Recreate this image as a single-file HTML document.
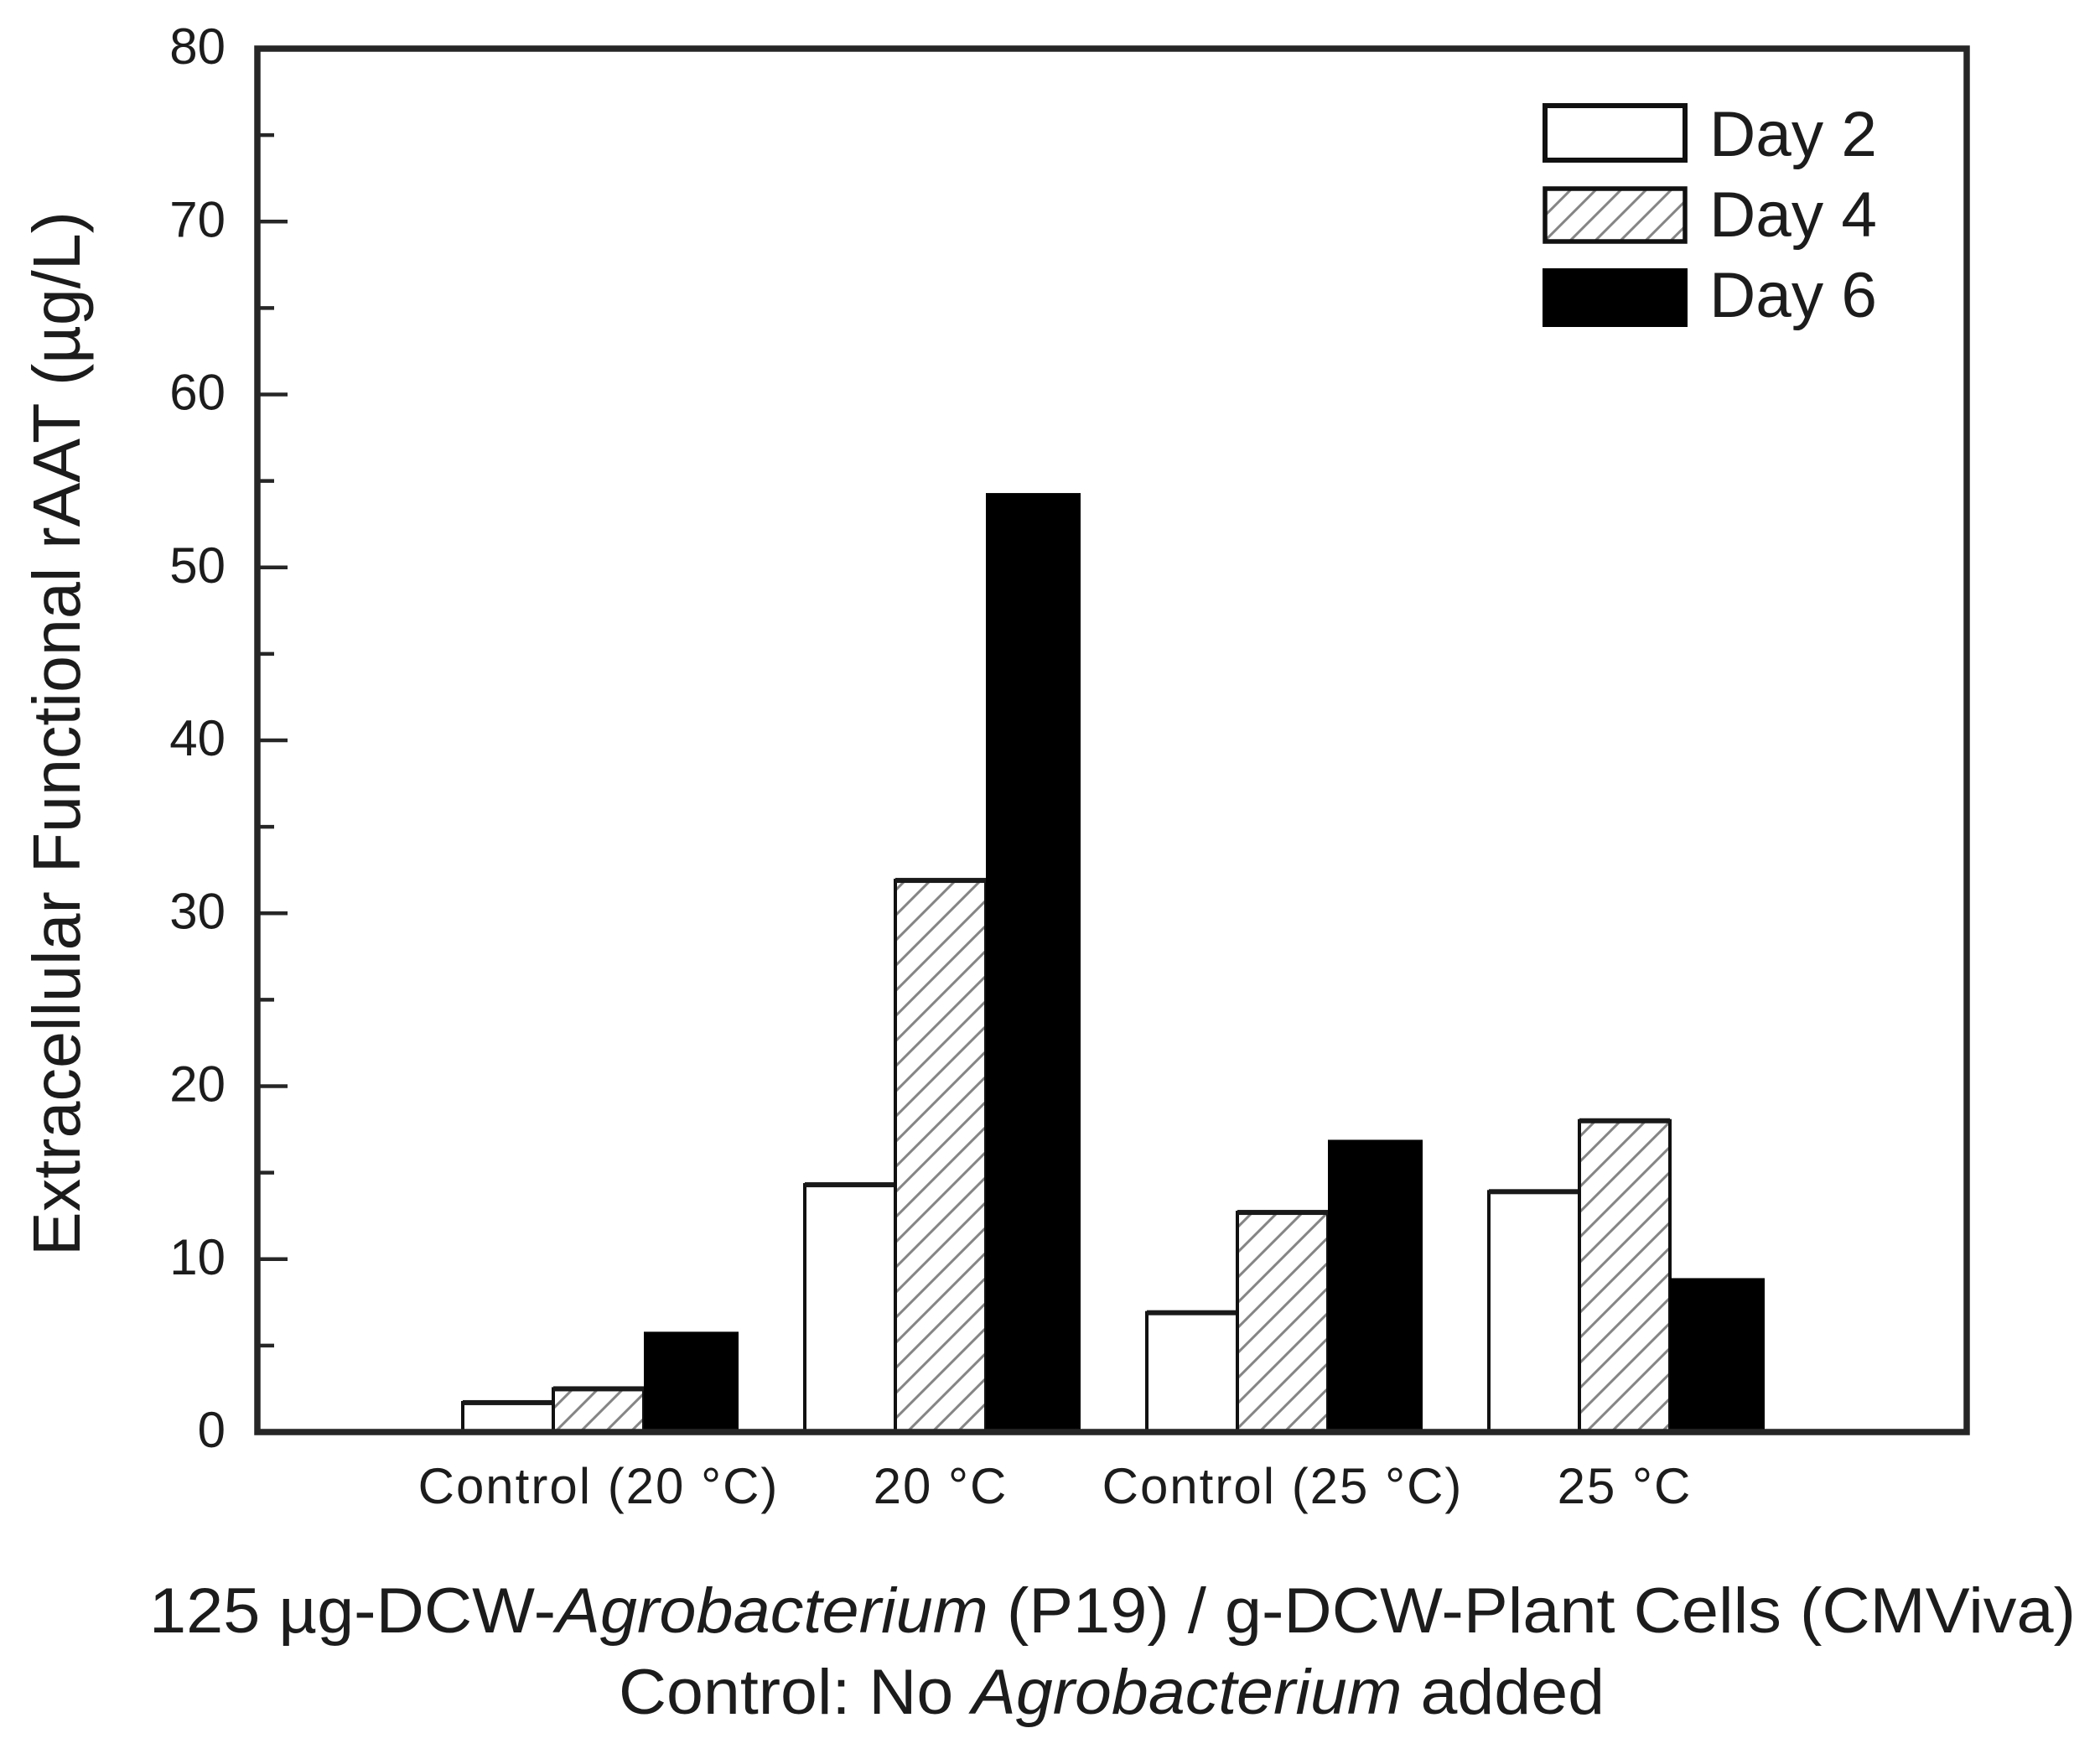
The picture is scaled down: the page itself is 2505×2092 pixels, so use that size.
<!DOCTYPE html>
<html lang="en">
<head>
<meta charset="utf-8">
<title>Extracellular Functional rAAT</title>
<style>
html,body{margin:0;padding:0;background:#fff;}
svg{display:block;}
text{font-family:"Liberation Sans",sans-serif;fill:#1c1c1c;}
</style>
</head>
<body>
<svg id="chart" xmlns="http://www.w3.org/2000/svg" width="2505" height="2092" viewBox="0 0 2505 2092">
  <defs>
    <pattern id="hatch" patternUnits="userSpaceOnUse" width="30" height="30">
      <path d="M-7.5 7.5 L7.5 -7.5 M0 30 L30 0 M22.5 37.5 L37.5 22.5" stroke="#858585" stroke-width="3" fill="none"/>
    </pattern>
  </defs>
  <rect x="0" y="0" width="2505" height="2092" fill="#fff"/>
  <g id="bars"></g>
  <g id="ticks"></g>
  <rect x="307" y="58" width="2039" height="1650" fill="none" stroke="#262626" stroke-width="7.5"/>
  <g id="labels"></g>

  <text transform="translate(95,1498) rotate(-90)" font-size="80" textLength="1246" lengthAdjust="spacingAndGlyphs">Extracellular Functional rAAT (µg/L)</text>
  <text x="178" y="1947" font-size="76" textLength="2298" lengthAdjust="spacingAndGlyphs">125 µg-DCW-<tspan font-style="italic">Agrobacterium</tspan> (P19) / g-DCW-Plant Cells (CMViva)</text>
  <text x="738" y="2044" font-size="76" textLength="1176" lengthAdjust="spacingAndGlyphs">Control: No <tspan font-style="italic">Agrobacterium</tspan> added</text>

  <g>
    <rect x="1843" y="126" width="167" height="65" fill="#fff" stroke="#111" stroke-width="6"/>
    <text x="2039" y="186" font-size="76" textLength="200" lengthAdjust="spacingAndGlyphs">Day 2</text>
    <rect x="1843" y="225" width="167" height="63" fill="url(#hatch)" stroke="#111" stroke-width="5.5"/>
    <text x="2039" y="282" font-size="76" textLength="200" lengthAdjust="spacingAndGlyphs">Day 4</text>
    <rect x="1840" y="320" width="173" height="70" fill="#000"/>
    <text x="2039" y="378" font-size="76" textLength="200" lengthAdjust="spacingAndGlyphs">Day 6</text>
  </g>
</svg>
<script>
const categories = ["Control (20 °C)", "20 °C", "Control (25 °C)", "25 °C"];
const day2Values = [1.7, 14.3, 6.9, 13.9];
const day4Values = [2.5, 31.9, 12.7, 18.0];
const day6Values = [5.8, 54.3, 16.9, 8.9];
const yTickLabels = ["0", "10", "20", "30", "40", "50", "60", "70", "80"];
const yMinorTicks = [5, 15, 25, 35, 45, 55, 65, 75];

const NS = "http://www.w3.org/2000/svg";
const yMax = 80;
const yZero = 1708;
const yTop = 58;
const firstGroupLeft = 552;
const groupPitch = 408;
const barWidth = 108;

function yScale(v) {
  return yZero - (v / yMax) * (yZero - yTop);
}
function groupLeft(i) {
  return firstGroupLeft + groupPitch * i;
}

const barsLayer = document.getElementById("bars");
const ticksLayer = document.getElementById("ticks");
const labelsLayer = document.getElementById("labels");

categories.forEach(function (cat, i) {
  const slug = cat.toLowerCase().replace(/[^a-z0-9]+/g, "-").replace(/-$/, "");
  const x0 = groupLeft(i);

  const r2 = document.createElementNS(NS, "rect");
  r2.setAttribute("x", x0);
  r2.setAttribute("y", yScale(day2Values[i]));
  r2.setAttribute("width", barWidth);
  r2.setAttribute("height", yZero - yScale(day2Values[i]));
  r2.setAttribute("fill", "#fff");
  r2.setAttribute("stroke", "#111");
  r2.setAttribute("stroke-width", "4");
  
  
  barsLayer.appendChild(r2);

  const top2 = document.createElementNS(NS, "rect");
  top2.setAttribute("x", x0);
  top2.setAttribute("y", yScale(day2Values[i]) - 3);
  top2.setAttribute("width", barWidth);
  top2.setAttribute("height", 6);
  top2.setAttribute("fill", "#1a1a1a");
  
  
  barsLayer.appendChild(top2);

  const r4 = document.createElementNS(NS, "rect");
  r4.setAttribute("x", x0 + barWidth);
  r4.setAttribute("y", yScale(day4Values[i]));
  r4.setAttribute("width", barWidth);
  r4.setAttribute("height", yZero - yScale(day4Values[i]));
  r4.setAttribute("fill", "url(#hatch)");
  r4.setAttribute("stroke", "#111");
  r4.setAttribute("stroke-width", "4");
  
  
  barsLayer.appendChild(r4);

  const top4 = document.createElementNS(NS, "rect");
  top4.setAttribute("x", x0 + barWidth);
  top4.setAttribute("y", yScale(day4Values[i]) - 3);
  top4.setAttribute("width", barWidth);
  top4.setAttribute("height", 6);
  top4.setAttribute("fill", "#1a1a1a");
  
  
  barsLayer.appendChild(top4);

  const r6 = document.createElementNS(NS, "rect");
  r6.setAttribute("x", x0 + barWidth * 2);
  r6.setAttribute("y", yScale(day6Values[i]));
  r6.setAttribute("width", barWidth + 5);
  r6.setAttribute("height", yZero - yScale(day6Values[i]));
  r6.setAttribute("fill", "#000");
  
  
  barsLayer.appendChild(r6);

  const label = document.createElementNS(NS, "text");
  label.setAttribute("x", x0 + barWidth * 1.5);
  label.setAttribute("y", 1793);
  label.setAttribute("text-anchor", "middle");
  label.setAttribute("font-size", "60");
  label.setAttribute("letter-spacing", "2");
  label.textContent = cat;
  
  
  labelsLayer.appendChild(label);
});

yTickLabels.forEach(function (t) {
  const v = parseFloat(t);
  const y = yScale(v);

  if (v > 0 && v < yMax) {
    const tick = document.createElementNS(NS, "line");
    tick.setAttribute("x1", 307);
    tick.setAttribute("x2", 343);
    tick.setAttribute("y1", y);
    tick.setAttribute("y2", y);
    tick.setAttribute("stroke", "#262626");
    tick.setAttribute("stroke-width", "4.5");
    
    
    ticksLayer.appendChild(tick);
  }

  const lab = document.createElementNS(NS, "text");
  lab.setAttribute("x", 269);
  lab.setAttribute("y", y + 18);
  lab.setAttribute("text-anchor", "end");
  lab.setAttribute("font-size", "60");
  lab.textContent = t;
  
  
  labelsLayer.appendChild(lab);
});

yMinorTicks.forEach(function (v) {
  const y = yScale(v);
  const tick = document.createElementNS(NS, "line");
  tick.setAttribute("x1", 307);
  tick.setAttribute("x2", 327);
  tick.setAttribute("y1", y);
  tick.setAttribute("y2", y);
  tick.setAttribute("stroke", "#262626");
  tick.setAttribute("stroke-width", "4.5");
  
  
  ticksLayer.appendChild(tick);
});
</script>
</body>
</html>
